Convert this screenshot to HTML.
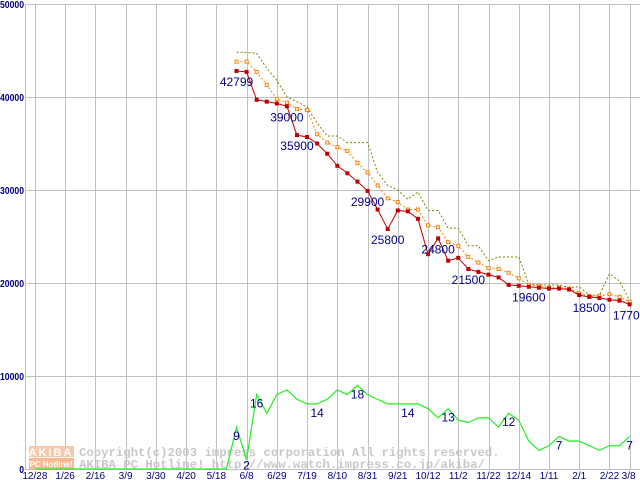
<!DOCTYPE html>
<html><head><meta charset="utf-8"><style>
html,body{margin:0;padding:0;background:#fff;width:640px;height:480px;overflow:hidden}
svg{display:block}
</style></head><body>
<svg id="chart" width="640" height="480" xmlns="http://www.w3.org/2000/svg" font-family="'Liberation Sans',sans-serif"></svg>
<script>
const xTickLabels = ["12/28","1/26","2/16","3/9","3/30","4/20","5/18","6/8","6/29","7/19","8/10","8/31","9/21","10/12","11/2","11/22","12/14","1/11","2/1","2/22"];
const lastTickLabel = "3/8";
const yTicks = [0,10000,20000,30000,40000,50000];
const minPrice = [42799,42700,39700,39500,39300,39000,35900,35700,35000,33900,32600,31800,30900,29900,27900,25800,27800,27700,26900,23100,24800,22400,22700,21500,21200,20900,20600,19800,19700,19600,19500,19400,19400,19300,18700,18500,18400,18200,18100,17700];
const avgPrice = [43800,43800,42700,41300,39800,39400,38700,38600,36000,35100,34600,34200,32900,31900,30500,29100,28700,27900,27900,26200,26000,24400,24000,22800,22200,21600,21500,21100,20500,19800,19700,19500,19500,19400,18900,18600,18600,18800,18500,18000];
const maxPrice = [44800,44800,44700,43100,41800,40000,39500,38900,37200,35800,35800,35100,35100,35100,31900,30500,30000,29000,29800,27800,27800,25900,25900,24000,24000,22400,22800,22800,22800,19900,19800,19800,19800,19500,19600,18700,18700,21000,20200,18100];
const leadZeroWeeks = 20;
const shopCount = [9,2,16,12,16,17,15,14,14,15,17,16,18,16,15,14,14,14,14,13,11,13,10.5,10,11,11,9,12,10.5,6,4,5,7,6,6,5,4,5,5,7];
const priceLabelIdx = [0,5,6,13,15,20,23,29,35,39];
const countLabelIdx = [0,1,2,8,12,17,21,27,32,39];
const countLabelText = [9,2,16,14,18,14,13,12,7,7];

const NS="http://www.w3.org/2000/svg";
const svg=document.getElementById('chart');
const X=w=>236.5+w*10.08;
const Y=v=>469-v*0.0093;
const CS=500;
function el(tag,attrs,parent){const e=document.createElementNS(NS,tag);for(const k in attrs)e.setAttribute(k,attrs[k]);(parent||svg).appendChild(e);return e;}

const grid=el('g',{});


yTicks.forEach(v=>{
  const l=el('line',{x1:25,x2:640,y1:Y(v)+0.5,y2:Y(v)+0.5,stroke:'#c0c0c0'},grid);
  
  
  const s=String(v);
  const t=el('text',{x:24,y:Y(v)+4,'text-anchor':'end','font-size':10,'font-weight':'bold',fill:'#000080',textLength:s.length*4.8,lengthAdjust:'spacingAndGlyphs'});
  
  
  t.textContent=s;
});
const la=el('line',{x1:25.5,x2:25.5,y1:4,y2:470,stroke:'#c0c0c0'},grid);


xTickLabels.forEach((s,k)=>{
  const w=-20+3*k;
  const l=el('line',{x1:Math.round(X(w))+0.5,x2:Math.round(X(w))+0.5,y1:4,y2:470,stroke:'#c0c0c0'},grid);
  
  
  const t=el('text',{x:X(w),y:479,'text-anchor':'middle','font-size':10,fill:'#000080'});
  
  
  t.textContent=s;
});
{
  const w=minPrice.length-1;
  const l=el('line',{x1:Math.round(X(w))+0.5,x2:Math.round(X(w))+0.5,y1:4,y2:470,stroke:'#c0c0c0'},grid);
  
  
  const t=el('text',{x:X(w)-1,y:479,'text-anchor':'middle','font-size':10,fill:'#000080'});
  
  
  t.textContent=lastTickLabel;
}

const wm=el('g',{});


el('rect',{x:29,y:446,width:45,height:11,fill:'#f9c8a8'},wm);
el('rect',{x:29,y:458,width:45,height:11,fill:'#f9b890'},wm);
const a1=el('text',{x:51,y:456,'text-anchor':'middle','font-size':11,'font-weight':'bold',fill:'#fff','letter-spacing':2},wm);a1.textContent='AKIBA';
const a2=el('text',{x:51,y:467,'text-anchor':'middle','font-size':8,'font-weight':'bold',fill:'#fff'},wm);a2.textContent='PC Hotline!';
const c1=el('text',{x:79,y:456,'font-size':12.3,'font-weight':'bold',fill:'#c8c8c8','font-family':"'Liberation Mono',monospace"},wm);c1.textContent='Copyright(c)2003 impress corporation All rights reserved.';
const c2=el('text',{x:79,y:468,'font-size':12.3,'font-weight':'bold',fill:'#c8c8c8','font-family':"'Liberation Mono',monospace",'xml:space':'preserve'},wm);c2.textContent='AKIBA PC Hotline!  http://www.watch.impress.co.jp/akiba/';

let gp=[];
for(let i=0;i<leadZeroWeeks;i++)gp.push([X(-leadZeroWeeks+i),Y(0)]);
shopCount.forEach((c,i)=>gp.push([X(i),Y(c*CS)]));
const gl=el('polyline',{points:gp.map(p=>p.join(',')).join(' '),fill:'none',stroke:'#22ee22','stroke-width':1.2});



const ml=el('polyline',{points:maxPrice.map((v,i)=>X(i)+','+Y(v)).join(' '),fill:'none',stroke:'#808000','stroke-width':1,'stroke-dasharray':'2,2'});


const al=el('polyline',{points:avgPrice.map((v,i)=>X(i)+','+Y(v)).join(' '),fill:'none',stroke:'#ff8000','stroke-width':1,'stroke-dasharray':'2,2'});


avgPrice.forEach((v,i)=>{
  const r=el('rect',{x:X(i)-1.5,y:Y(v)-1.5,width:3,height:3,fill:'#fff',stroke:'#ff8000','stroke-width':1});
  
  
});
const rl=el('polyline',{points:minPrice.map((v,i)=>X(i)+','+Y(v)).join(' '),fill:'none',stroke:'#c00000','stroke-width':1});


minPrice.forEach((v,i)=>{
  const r=el('rect',{x:X(i)-2,y:Y(v)-2,width:4,height:4,fill:'#c00000'});
  
  
});
priceLabelIdx.forEach(i=>{
  const t=el('text',{x:X(i),y:Y(minPrice[i])+15,'text-anchor':'middle','font-size':12,fill:'#000080'});
  
  
  t.textContent=minPrice[i];
});
countLabelIdx.forEach((i,k)=>{
  const t=el('text',{x:X(i),y:Y(shopCount[i]*CS)+(i===1?10:13),'text-anchor':'middle','font-size':12,fill:'#000080'});
  
  
  t.textContent=countLabelText[k];
});
</script>
</body></html>
